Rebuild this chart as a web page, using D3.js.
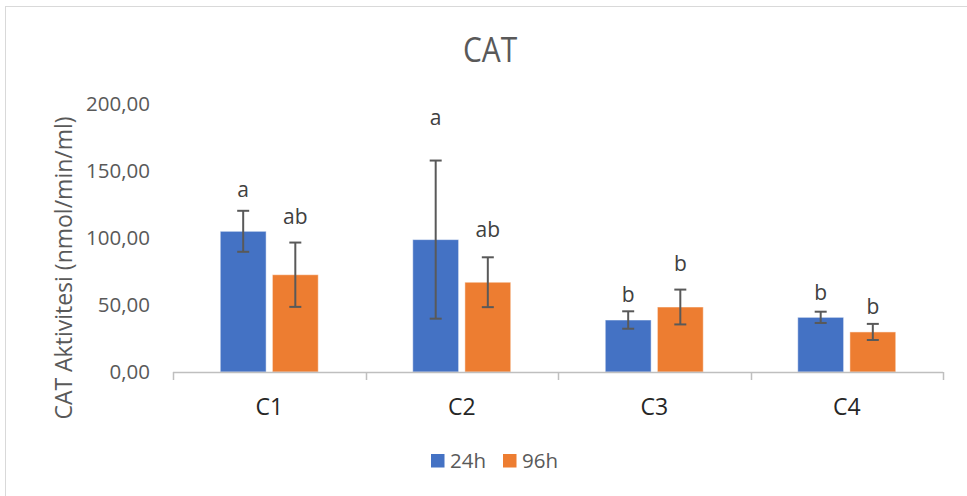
<!DOCTYPE html>
<html>
<head>
<meta charset="utf-8">
<script src="https://cdn.jsdelivr.net/npm/d3@7"></script>
<style>
  body { margin: 0; background: #fff; }
  svg { display: block; }
</style>
</head>
<body>
<svg width="967" height="496"></svg>
<script>
// chart data
const categories = ["C1", "C2", "C3", "C4"];
const seriesNames = ["24h", "96h"];
const means24 = [105.0, 98.8, 38.8, 40.8];
const means96 = [72.6, 67.0, 48.5, 29.9];
const err24 = [15.3, 59.0, 6.5, 4.2];
const err96 = [24.0, 18.6, 13.0, 6.0];
const letters24 = ["a", "a", "b", "b"];
const letters96 = ["ab", "ab", "b", "b"];
// where the letter baselines sit, in axis units
const letterAt24 = [130.6, 184.3, 52.2, 53.7];
const letterAt96 = [110.4, 101.0, 75.4, 43.3];
const yTicks = [0, 50, 100, 150, 200];

const colors = ["#4472C4", "#ED7D31"];
const font = "'Open Sans', 'Noto Sans', sans-serif";

const svg = d3.select("svg");

// chart frame (only top/left edges fall inside the window)
svg.append("rect")
    .attr("x", 5.5).attr("y", 6.5)
    .attr("width", 970).attr("height", 500)
    .attr("fill", "#fff")
    .attr("stroke", "#d9d9d9");

var margin = { left: 173, right: 943, top: 104, bottom: 372 };

var x0 = d3.scaleBand()
    .domain(categories)
    .range([margin.left, margin.right]);

var x1 = d3.scaleBand()
    .domain(seriesNames)
    .range([0, 98])
    .paddingInner(0.12);

var y = d3.scaleLinear()
    .domain([0, 200])
    .range([margin.bottom, margin.top]);

// title
svg.append("text")
    .attr("transform", "translate(490,62) scale(0.88,1)")
    .attr("text-anchor", "middle")
    .attr("font-family", font)
    .attr("font-size", 34)
    .attr("fill", "#595959")
    .text("CAT");

// y axis labels (no line)
var yAxis = d3.axisLeft(y)
    .tickValues(yTicks)
    .tickSize(0)
    .tickPadding(23)
    .tickFormat(d => d3.format(".2f")(d).replace(".", ","));

var gy = svg.append("g")
    .attr("transform", "translate(" + margin.left + ",0)")
    .call(yAxis);
gy.select(".domain").remove();
gy.selectAll("text")
    .attr("font-family", font)
    .attr("font-size", 20.5)
    .attr("fill", "#595959");

// y axis title
svg.append("text")
    .attr("transform", "translate(72,268) rotate(-90)")
    .attr("text-anchor", "middle")
    .attr("font-family", font)
    .attr("font-size", 23)
    .attr("fill", "#595959")
    .text("CAT Aktivitesi (nmol/min/ml)");

// bars
var rows = categories.map((c, i) => ({
    cat: c,
    vals: [
        { s: "24h", v: means24[i], e: err24[i], l: letters24[i], ly: letterAt24[i], col: colors[0] },
        { s: "96h", v: means96[i], e: err96[i], l: letters96[i], ly: letterAt96[i], col: colors[1] }
    ]
}));

var groupOffset = (x0.bandwidth() - 98) / 2;

var groups = svg.selectAll(".grp")
    .data(rows)
    .enter().append("g")
    .attr("class", "grp")
    .attr("transform", d => "translate(" + (x0(d.cat) + groupOffset) + ",0)");

groups.selectAll("rect")
    .data(d => d.vals)
    .enter().append("rect")
    .attr("x", d => x1(d.s))
    .attr("y", d => y(d.v))
    .attr("width", x1.bandwidth())
    .attr("height", d => y(0) - y(d.v))
    .attr("fill", d => d.col)
    .attr("stroke", "#fff")
    .attr("stroke-opacity", 0.5)
    .attr("stroke-width", 1);

// error bars
var eb = groups.selectAll(".err")
    .data(d => d.vals)
    .enter().append("g")
    .attr("class", "err")
    .attr("stroke", "#595959")
    .attr("stroke-width", 2);

eb.append("line")
    .attr("x1", d => x1(d.s) + x1.bandwidth() / 2)
    .attr("x2", d => x1(d.s) + x1.bandwidth() / 2)
    .attr("y1", d => y(d.v + d.e))
    .attr("y2", d => y(d.v - d.e));
eb.append("line")
    .attr("x1", d => x1(d.s) + x1.bandwidth() / 2 - 6)
    .attr("x2", d => x1(d.s) + x1.bandwidth() / 2 + 6)
    .attr("y1", d => y(d.v + d.e))
    .attr("y2", d => y(d.v + d.e));
eb.append("line")
    .attr("x1", d => x1(d.s) + x1.bandwidth() / 2 - 6)
    .attr("x2", d => x1(d.s) + x1.bandwidth() / 2 + 6)
    .attr("y1", d => y(d.v - d.e))
    .attr("y2", d => y(d.v - d.e));

// significance letters
groups.selectAll(".lbl")
    .data(d => d.vals)
    .enter().append("text")
    .attr("class", "lbl")
    .attr("x", d => x1(d.s) + x1.bandwidth() / 2)
    .attr("y", d => y(d.ly))
    .attr("text-anchor", "middle")
    .attr("font-family", font)
    .attr("font-size", 21)
    .attr("fill", "#404040")
    .text(d => d.l);

// x axis
var xAxis = d3.axisBottom(x0).tickSize(0).tickPadding(0);
var gx = svg.append("g")
    .attr("transform", "translate(0," + margin.bottom + ")")
    .call(xAxis);
gx.select(".domain").remove();
gx.selectAll(".tick line").remove();
gx.selectAll(".tick text")
    .attr("y", 43)
    .attr("dy", null)
    .attr("font-family", font)
    .style("font-size", "23px")
    .attr("fill", "#262626");

gx.append("line")
    .attr("x1", margin.left).attr("x2", margin.right)
    .attr("y1", 0.5).attr("y2", 0.5)
    .attr("stroke", "#bfbfbf")
    .attr("stroke-width", 1.5);

var bounds = categories.map(c => x0(c)).concat([margin.right]);
gx.selectAll(".bnd")
    .data(bounds)
    .enter().append("line")
    .attr("class", "bnd")
    .attr("x1", d => Math.round(d) + 0.5).attr("x2", d => Math.round(d) + 0.5)
    .attr("y1", 0).attr("y2", 8)
    .attr("stroke", "#bfbfbf")
    .attr("stroke-width", 1.5);

// legend
var legend = svg.append("g");
var legX = [431, 503];
seriesNames.forEach((s, i) => {
    legend.append("rect")
        .attr("x", legX[i]).attr("y", 454)
        .attr("width", 13.5).attr("height", 13.5)
        .attr("fill", colors[i]);
    legend.append("text")
        .attr("x", legX[i] + 19).attr("y", 468)
        .attr("font-family", font)
        .attr("font-size", 20.5)
        .attr("fill", "#595959")
        .text(s);
});
</script>
</body>
</html>
